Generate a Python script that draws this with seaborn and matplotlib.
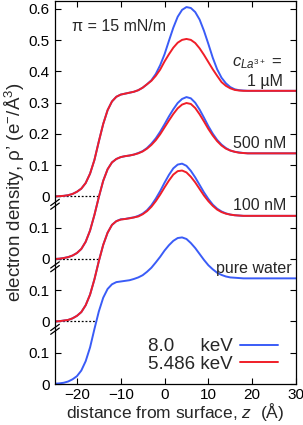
import numpy as np
import pandas as pd
import matplotlib
matplotlib.use("Agg")
import matplotlib.pyplot as plt
import matplotlib.transforms as mtransforms
import seaborn as sns

# distance from surface (Å)
z = list(range(-25, 31))

# electron density profiles (e-/Å^3), without the vertical offsets
water_8kev = [0.001, 0.002, 0.004, 0.008, 0.015, 0.025, 0.043, 0.073, 0.117, 0.176,
              0.232, 0.276, 0.304, 0.319, 0.326, 0.328, 0.330, 0.332, 0.336, 0.341,
              0.348, 0.359, 0.372, 0.389, 0.407, 0.427, 0.444, 0.458, 0.467, 0.469,
              0.464, 0.451, 0.435, 0.416, 0.397, 0.380, 0.367, 0.356, 0.349, 0.344,
              0.341, 0.340, 0.339, 0.338, 0.338, 0.338, 0.338, 0.338, 0.338, 0.338,
              0.338, 0.338, 0.338, 0.338, 0.338, 0.338]
nm100_8kev = [0.000, 0.001, 0.003, 0.005, 0.010, 0.018, 0.030, 0.052, 0.086, 0.135,
              0.193, 0.245, 0.284, 0.309, 0.321, 0.327, 0.328, 0.331, 0.333, 0.338,
              0.345, 0.356, 0.372, 0.393, 0.417, 0.444, 0.469, 0.490, 0.502, 0.505,
              0.498, 0.482, 0.461, 0.437, 0.413, 0.392, 0.374, 0.361, 0.352, 0.346,
              0.342, 0.340, 0.339, 0.338, 0.338, 0.338, 0.338, 0.338, 0.338, 0.338,
              0.338, 0.338, 0.338, 0.338, 0.338, 0.338]
nm100_5kev = [0.000, 0.001, 0.003, 0.005, 0.010, 0.018, 0.030, 0.052, 0.086, 0.135,
              0.193, 0.245, 0.284, 0.309, 0.321, 0.326, 0.328, 0.330, 0.333, 0.336,
              0.343, 0.353, 0.367, 0.385, 0.406, 0.429, 0.451, 0.470, 0.481, 0.483,
              0.477, 0.463, 0.445, 0.424, 0.403, 0.385, 0.370, 0.358, 0.350, 0.345,
              0.342, 0.340, 0.339, 0.338, 0.338, 0.338, 0.338, 0.338, 0.338, 0.338,
              0.338, 0.338, 0.338, 0.338, 0.338, 0.338]
nm500_8kev = [0.000, 0.001, 0.003, 0.006, 0.011, 0.019, 0.032, 0.055, 0.091, 0.141,
              0.198, 0.250, 0.287, 0.309, 0.320, 0.326, 0.329, 0.331, 0.334, 0.339,
              0.345, 0.355, 0.369, 0.386, 0.407, 0.431, 0.456, 0.479, 0.499, 0.512,
              0.518, 0.514, 0.500, 0.478, 0.452, 0.425, 0.401, 0.381, 0.366, 0.355,
              0.347, 0.343, 0.341, 0.339, 0.338, 0.338, 0.338, 0.338, 0.338, 0.338,
              0.338, 0.338, 0.338, 0.338, 0.338, 0.338]
nm500_5kev = [0.000, 0.001, 0.003, 0.006, 0.011, 0.019, 0.032, 0.055, 0.091, 0.141,
              0.198, 0.250, 0.287, 0.309, 0.320, 0.326, 0.329, 0.331, 0.334, 0.338,
              0.344, 0.353, 0.365, 0.380, 0.399, 0.421, 0.443, 0.464, 0.482, 0.494,
              0.499, 0.496, 0.483, 0.463, 0.440, 0.416, 0.395, 0.377, 0.363, 0.353,
              0.347, 0.343, 0.340, 0.339, 0.338, 0.338, 0.338, 0.338, 0.338, 0.338,
              0.338, 0.338, 0.338, 0.338, 0.338, 0.338]
um1_8kev = [0.000, 0.001, 0.002, 0.004, 0.008, 0.015, 0.025, 0.043, 0.073, 0.117,
            0.176, 0.232, 0.276, 0.304, 0.319, 0.326, 0.329, 0.332, 0.335, 0.340,
            0.348, 0.359, 0.372, 0.392, 0.420, 0.455, 0.498, 0.540, 0.575, 0.597,
            0.606, 0.603, 0.590, 0.566, 0.530, 0.488, 0.444, 0.407, 0.380, 0.362,
            0.350, 0.343, 0.340, 0.339, 0.338, 0.338, 0.338, 0.338, 0.338, 0.338,
            0.338, 0.338, 0.338, 0.338, 0.338, 0.338]
um1_5kev = [0.000, 0.001, 0.002, 0.004, 0.008, 0.015, 0.025, 0.043, 0.073, 0.117,
            0.176, 0.232, 0.276, 0.304, 0.319, 0.326, 0.329, 0.332, 0.335, 0.340,
            0.348, 0.359, 0.370, 0.386, 0.406, 0.432, 0.455, 0.476, 0.492, 0.501,
            0.504, 0.501, 0.491, 0.474, 0.453, 0.430, 0.407, 0.386, 0.366, 0.354,
            0.346, 0.341, 0.339, 0.338, 0.338, 0.338, 0.338, 0.338, 0.338, 0.338,
            0.338, 0.338, 0.338, 0.338, 0.338, 0.338]

samples = ["pure water", "100 nM", "500 nM", "1 µM"]
offsets = [0.0, 0.2, 0.4, 0.6]
energies = ["8.0     keV", "5.486 keV"]
colors = {energies[0]: "#3a5cf7", energies[1]: "#f01e28"}

curves = {
    ("pure water", energies[0]): water_8kev,
    ("100 nM", energies[0]): nm100_8kev,
    ("100 nM", energies[1]): nm100_5kev,
    ("500 nM", energies[0]): nm500_8kev,
    ("500 nM", energies[1]): nm500_5kev,
    ("1 µM", energies[0]): um1_8kev,
    ("1 µM", energies[1]): um1_5kev,
}

rows = []
for (sample, energy), vals in curves.items():
    off = offsets[samples.index(sample)]
    for zz, v in zip(z, vals):
        rows.append({"z": zz, "rho": v + off, "energy": energy, "sample": sample})
df = pd.DataFrame(rows)

sns.set_style("ticks")
plt.rcParams["font.family"] = ["Liberation Sans", "DejaVu Sans"]
plt.rcParams["mathtext.fontset"] = "custom"
plt.rcParams["mathtext.rm"] = "Liberation Sans"
plt.rcParams["mathtext.it"] = "Liberation Sans:italic"
plt.rcParams["mathtext.bf"] = "Liberation Sans:bold"

fig = plt.figure(figsize=(3.03, 4.25), dpi=100)
ax = fig.add_axes([55 / 303, 41 / 425, 241 / 303, 383 / 425])

# dotted baselines of the shifted curves, up to where the curve below crosses them
lower = [water_8kev, nm100_5kev, nm500_5kev]
for i in range(1, len(offsets)):
    gap = offsets[i] - offsets[i - 1]
    rise = lower[i - 1][:16]
    zc = np.interp(gap, rise, z[:16])
    ax.plot([z[0], zc], [offsets[i], offsets[i]], color="k", ls=(0, (1.5, 1.5)), lw=0.9, zorder=1)

sns.lineplot(data=df, x="z", y="rho", hue="energy", hue_order=energies, units="sample",
             estimator=None, sort=False, palette=colors, lw=1.4, ax=ax, zorder=2)

ax.set_xlim(-25, 30)
ax.set_ylim(0, 1.2254)
ax.set_xticks([-20, -10, 0, 10, 20, 30])
yt = [0, 0.1, 0.2, 0.3, 0.4, 0.5, 0.6, 0.7, 0.8, 0.9, 1.0, 1.1, 1.2]
ax.set_yticks(yt)
ax.set_yticklabels(["0", "0.1", "0", "0.1", "0", "0.1", "0", "0.1", "0.2", "0.3", "0.4", "0.5", "0.6"])
ax.tick_params(direction="in", length=4, width=0.8, top=True, right=True, labelsize=11,
               colors="k", pad=4)
ax.tick_params(axis="x", pad=3)
for s in ax.spines.values():
    s.set_linewidth(0.9)
    s.set_color("k")

# axis-break marks on the left spine
trans = mtransforms.blended_transform_factory(ax.transAxes, ax.transData)
for off in offsets[:-1]:
    yb = off + 0.175
    for d in (-0.006, 0.006):
        ax.plot([-0.018, 0.018], [yb + d - 0.01, yb + d + 0.01], color="k", lw=0.9,
                transform=trans, clip_on=False, zorder=5)

ax.set_xlabel("distance from surface, $z$  (Å)", fontsize=12.5, labelpad=-0.5)
ax.set_ylabel("electron density, ρ’ (e$^{-}$/Å$^{3}$)", fontsize=13.5, labelpad=1)

ax.text(-21.1, 1.143, "π = 15 mN/m", fontsize=11.5, va="center", ha="left")
ax.text(15.3, 1.025, "$c_{La^{3+}}$ =", fontsize=12, va="center", ha="left")
ax.text(27.0, 0.968, "1 µM", fontsize=11.5, va="center", ha="right")
ax.text(27.9, 0.771, "500 nM", fontsize=11.5, va="center", ha="right")
ax.text(27.9, 0.571, "100 nM", fontsize=11.5, va="center", ha="right")
ax.text(29.0, 0.368, "pure water", fontsize=11.5, va="center", ha="right")

handles, labels = ax.get_legend_handles_labels()
ax.legend(handles, labels, loc="lower right", bbox_to_anchor=(0.925, 0.03), frameon=False,
          markerfirst=False, fontsize=13.5, borderpad=0, borderaxespad=0, labelspacing=0.0,
          handlelength=2.0, handletextpad=0.4)

fig.savefig("out.png", dpi=100)
